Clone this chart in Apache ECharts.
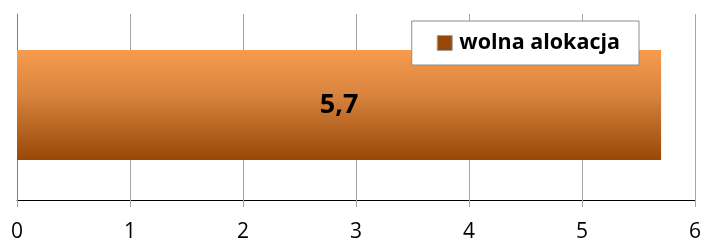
<!DOCTYPE html>
<html><head><meta charset="utf-8">
<script src="https://cdn.jsdelivr.net/npm/echarts@6/dist/echarts.min.js"></script>
<style>html,body{margin:0;padding:0;background:#fff}#c{width:704px;height:243px}</style>
</head><body><div id="c"></div>
<script>
const categories = ['wolna alokacja'];
const seriesName = 'wolna alokacja';
const values = [5.7];
const xTicks = [0, 1, 2, 3, 4, 5, 6];

const chart = echarts.init(document.getElementById('c'), null, {renderer: 'canvas'});
const font = '"Open Sans", "Liberation Sans", sans-serif';
chart.setOption({
  animation: false,
  legend: {
    data: [seriesName],
    right: 65, top: 21,
    padding: [11, 19, 11, 25],
    borderColor: '#8c8c8c', borderWidth: 1, backgroundColor: '#fff',
    itemWidth: 15, itemHeight: 15, itemGap: 6,
    icon: 'rect',
    itemStyle: {color: '#984807', borderColor: '#a0a0a0', borderWidth: 1},
    textStyle: {fontFamily: font, fontWeight: 'bold', fontSize: 21.5, color: '#000', padding: [0,0,0,2]}
  },
  grid: [
    {left: 17, right: 9, top: 14, bottom: 40},
    {left: 17, right: 9, top: 14, bottom: 47}
  ],
  xAxis: [
    {gridIndex: 0, type: 'value', min: xTicks[0], max: xTicks[xTicks.length-1], interval: 1,
     axisLine: {show: true, lineStyle: {color: '#000', width: 1}},
     axisTick: {show: true, length: 7, lineStyle: {color: '#a6a6a6'}},
     splitLine: {show: true, lineStyle: {color: '#a6a6a6', width: 1}},
     axisLabel: {fontFamily: font, fontSize: 21, color: '#000', margin: 22}},
    {gridIndex: 1, type: 'value', min: xTicks[0], max: xTicks[xTicks.length-1], show: false}
  ],
  yAxis: [
    {gridIndex: 0, type: 'category', data: categories,
     axisLine: {show: true, lineStyle: {color: '#808080'}},
     axisTick: {show: false}, axisLabel: {show: false}},
    {gridIndex: 1, type: 'category', data: categories, show: false}
  ],
  series: [{
    name: seriesName, type: 'bar', xAxisIndex: 1, yAxisIndex: 1,
    data: values, barWidth: 110,
    itemStyle: {color: new echarts.graphic.LinearGradient(0, 0, 0, 1, [
      {offset: 0, color: '#F79B4E'},
      {offset: 0.4, color: '#D9843F'},
      {offset: 1, color: '#984807'}
    ])},
    label: {show: true, position: 'inside', fontFamily: font, fontWeight: 'bold', fontSize: 27, color: '#000',
      formatter: p => String(p.value).replace('.', ',')}
  }]
});
</script></body></html>
